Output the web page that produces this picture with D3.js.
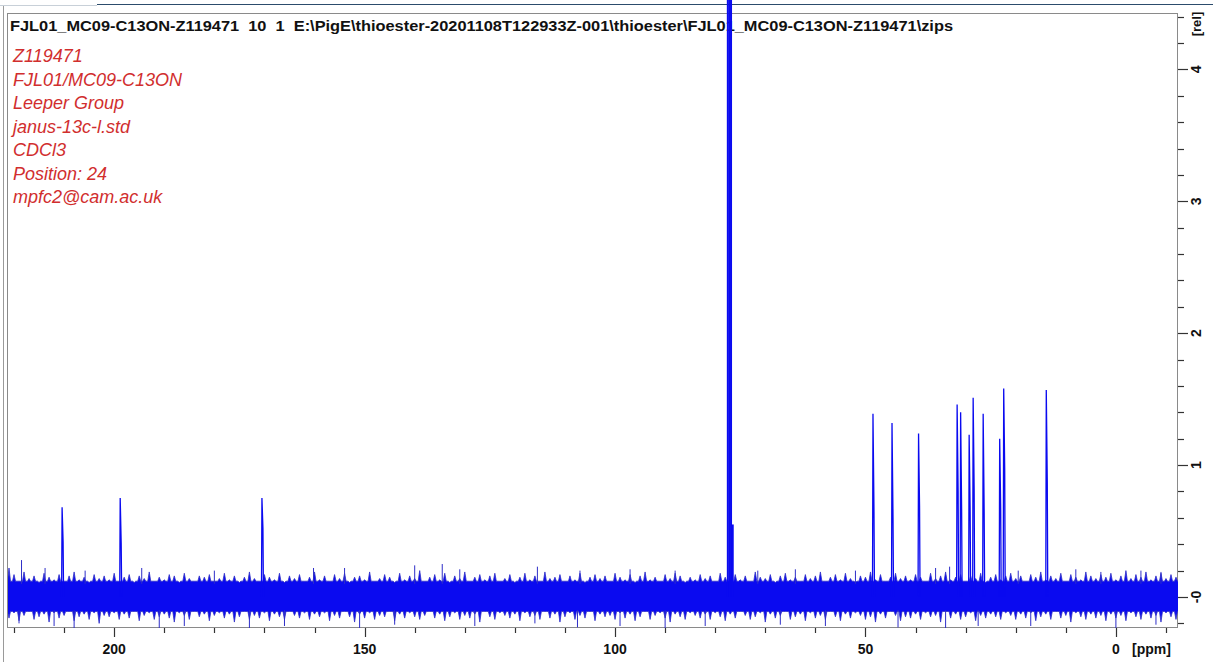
<!DOCTYPE html>
<html>
<head>
<meta charset="utf-8">
<script src="https://cdn.jsdelivr.net/npm/d3@7"></script>
<style>
  html, body { margin: 0; padding: 0; background: #ffffff; }
  svg { display: block; }
</style>
</head>
<body>
<svg id="chart" width="1213" height="662"></svg>
<script>
// ---- spectrum data (13C, CDCl3) ----
const titleText = "FJL01_MC09-C13ON-Z119471  10  1  E:\\PigE\\thioester-20201108T122933Z-001\\thioester\\FJL01_MC09-C13ON-Z119471\\zips";
const infoLines = ["Z119471", "FJL01/MC09-C13ON", "Leeper Group", "janus-13c-l.std", "CDCl3", "Position: 24", "mpfc2@cam.ac.uk"];

// resolved peaks: shift (ppm), apex height, neighbouring point height (rel)
const peakShift  = [210.4, 198.8, 170.5, 48.5, 44.7, 39.4, 31.7, 31.0, 29.3, 28.5, 26.5, 23.2, 22.4, 13.9];
const peakHeight = [0.68, 0.75, 0.75, 1.39, 1.32, 1.24, 1.46, 1.40, 1.23, 1.51, 1.39, 1.20, 1.58, 1.57];
const peakSecond = [0.42, 0.41, 0.52, 0.65, 0.60, 0.68, 0.80, 0.65, 0.65, 0.81, 0.64, 0.66, 0.96, 0.87];

// solvent triplet (off scale) and its shoulder
const solventShift  = [77.48, 77.16, 76.84, 76.5];
const solventHeight = [6.0, 6.0, 6.0, 0.55];

// baseline noise: dense core level and outer envelope (0.01 rel), one value per ppm from 221 to -13 ppm
const noiseCoreTop = 0.12;
const noiseCoreBottom = -0.11;
const noiseTop = [
  22,17,12,19,14,16,11,18,15,13,17,12,16,19,13,15,11,17,14,16,
  13,18,12,15,17,11,16,14,19,12,15,13,17,16,11,18,14,12,16,15,
  17,12,14,18,13,16,11,15,19,14,12,17,15,13,18,11,16,14,17,12,
  15,19,13,16,12,17,14,18,11,15,16,13,19,12,14,17,15,11,18,13,
  16,14,20,12,15,17,13,18,11,16,14,19,12,15,17,13,16,18,12,14,
  17,11,15,18,13,16,12,19,14,15,17,12,16,13,18,11,15,17,14,16,
  12,18,15,13,17,11,16,19,13,15,12,17,14,18,16,11,15,13,17,14,
  16,12,18,15,14,17,13,16,12,19,15,14,17,11,16,18,13,15,12,17,
  14,16,19,12,15,17,13,18,14,11,16,15,19,13,17,12,15,18,14,16,
  13,17,15,12,18,14,16,19,13,15,17,12,16,14,18,11,15,17,13,16,
  18,14,16,12,17,15,19,13,16,14,18,12,17,15,13,19,16,14,17,15,
  18,13,16,20,14,17,15,19,13,16,18,14,17,15,19
];
const noiseBottom = [
  16,12,18,14,11,17,15,13,19,12,16,14,11,18,15,13,17,12,20,14,
  15,12,17,13,16,11,18,14,12,17,15,13,16,19,12,14,17,11,15,13,
  18,14,12,16,13,19,15,11,17,14,16,12,18,13,15,17,11,14,16,12,
  17,13,15,12,18,14,16,11,15,19,13,16,12,17,14,15,11,18,13,16,
  12,15,17,14,11,16,13,18,15,12,17,14,16,13,19,11,15,17,12,14,
  16,13,18,12,15,14,17,11,16,13,19,15,12,17,14,16,11,18,13,15,
  14,17,12,16,13,18,15,11,17,14,12,16,19,13,15,17,12,14,16,13,
  17,12,15,18,13,16,11,14,17,15,12,19,13,16,14,11,17,15,13,18,
  12,16,14,17,11,15,18,13,16,12,14,17,15,19,13,16,11,14,18,15,
  16,13,17,12,15,14,19,11,16,13,17,15,12,18,14,16,13,15,17,12,
  14,17,13,16,12,18,15,13,17,11,16,14,19,12,15,17,13,16,14,18,
  13,16,14,18,12,15,17,13,16,14,19,12,15,17,14
];

// isolated noise spikes: shift (ppm), excursion (rel)
const spikeShift = [218.5, 213.8, 205.8, 194.5, 180.0, 160.2, 154.0, 140.0, 134.5, 131.0,
                    115.5, 107.0, 97.0, 88.0, 71.5, 64.0, 52.0, 36.0, 33.2, 19.5,
                    8.0, 3.0, -5.0, -9.0,
                    219.0, 212.0, 208.0, 191.0, 186.0, 173.0, 166.0, 151.0, 144.0, 128.0,
                    116.0, 107.5, 99.0, 90.0, 82.0, 67.0, 58.0, 43.5, 34.0, 27.5,
                    17.0, 0.0, -8.0];
const spikeValue = [0.28, 0.22, 0.20, 0.22, 0.20, 0.22, 0.22, 0.24, 0.25, 0.21,
                    0.23, 0.20, 0.21, 0.20, 0.20, 0.21, 0.20, 0.22, 0.23, 0.20,
                    0.21, 0.19, 0.20, 0.19,
                    -0.20, -0.22, -0.26, -0.25, -0.22, -0.25, -0.22, -0.24, -0.21, -0.22,
                    -0.20, -0.23, -0.22, -0.25, -0.22, -0.21, -0.22, -0.23, -0.24, -0.22,
                    -0.22, -0.24, -0.21];

// axis ticks
const xMajorTicks = [200, 150, 100, 50, 0];
const xMinorTicks = [220, 210, 190, 180, 170, 160, 140, 130, 120, 110, 90, 80, 70, 60, 40, 30, 20, 10, -10];
const yMajorTicks = [0, 1, 2, 3, 4];
const yMajorLabels = ["-0", "1", "2", "3", "4"];
const yMinorTicks = [-0.2, 0.2, 0.4, 0.6, 0.8, 1.2, 1.4, 1.6, 1.8, 2.2, 2.4, 2.6, 2.8, 3.2, 3.4, 3.6, 3.8, 4.2, 4.4];

// ---- layout ----
const plot = { left: 8, right: 1178, top: 14, bottom: 628 };
const svg = d3.select("#chart");

const x = d3.scaleLinear().domain([221.2, -12.4]).range([plot.left, plot.right]);
const y = d3.scaleLinear().domain([-0.235, 4.42]).range([plot.bottom, plot.top]);

const blue = "#0a0af0";
const edgeBlue = "#2e2ec8";
const frameColor = "#8a8a8a";

// window edges
svg.append("line").attr("x1", 3.5).attr("x2", 3.5).attr("y1", 5).attr("y2", 662)
  .attr("stroke", "#9a9a9a").attr("stroke-width", 1);
svg.append("line").attr("x1", 0).attr("x2", 97).attr("y1", 5.5).attr("y2", 5.5)
  .attr("stroke", "#c8d0d8").attr("stroke-width", 1);
svg.append("line").attr("x1", 97).attr("x2", 1213).attr("y1", 4.5).attr("y2", 4.5)
  .attr("stroke", "#2c4c6c").attr("stroke-width", 1);

// plot frame
svg.append("rect")
  .attr("x", plot.left - 0.5).attr("y", plot.top - 0.5)
  .attr("width", plot.right - plot.left).attr("height", plot.bottom - plot.top)
  .attr("fill", "none").attr("stroke", frameColor).attr("stroke-width", 1);

// title and sample info
svg.append("text")
  .attr("x", 10).attr("y", 31)
  .attr("xml:space", "preserve")
  .style("white-space", "pre")
  .attr("font-family", "'Liberation Sans', Arial, sans-serif")
  .attr("font-weight", "bold").attr("font-size", 14)
  .attr("fill", "#111")
  .attr("textLength", 943).attr("lengthAdjust", "spacingAndGlyphs")
  .text(titleText);

svg.append("g").selectAll("text").data(infoLines).join("text")
  .attr("x", 13).attr("y", (d, i) => 62 + i * 23.5)
  .attr("font-family", "'Liberation Sans', Arial, sans-serif")
  .attr("font-style", "italic").attr("font-size", 18)
  .attr("fill", "#d12e2e")
  .text(d => d);

// spectrum layer (clipped at the x axis)
svg.append("clipPath").attr("id", "specClip")
  .append("rect").attr("x", plot.left).attr("y", 0)
  .attr("width", plot.right - plot.left).attr("height", plot.bottom);

const spec = svg.append("g").attr("clip-path", "url(#specClip)");

// noise band: each sampled excursion rises out of the dense core
const noiseShift = d3.range(noiseTop.length).map(i => 221 - i);
const bandTop = noiseShift.flatMap((s, i) => [
  { s: s + 0.3, v: noiseCoreTop }, { s, v: noiseTop[i] / 100 }, { s: s - 0.3, v: noiseCoreTop }
]);
const bandBottom = noiseShift.flatMap((s, i) => [
  { s: s + 0.3, v: noiseCoreBottom }, { s, v: -noiseBottom[i] / 100 }, { s: s - 0.3, v: noiseCoreBottom }
]);
const bandLine = d3.line().x(d => x(d.s)).y(d => y(d.v));
spec.append("path")
  .attr("fill", blue).attr("stroke", edgeBlue).attr("stroke-width", 0.8)
  .attr("stroke-linejoin", "miter")
  .attr("d", bandLine(bandTop.concat(bandBottom.slice().reverse())) + "Z");

// noise spikes
spec.append("g").selectAll("line").data(spikeShift).join("line")
  .attr("x1", d => x(d)).attr("x2", d => x(d))
  .attr("y1", (d, i) => y(spikeValue[i] > 0 ? 0.1 : -0.1))
  .attr("y2", (d, i) => y(spikeValue[i]))
  .attr("stroke", edgeBlue).attr("stroke-width", 1);

// resolved peaks: apex line plus neighbouring point
const peakLine = d3.line().x(d => x(d[0])).y(d => y(d[1]));
spec.append("g").selectAll("path").data(peakShift).join("path")
  .attr("fill", "none").attr("stroke", blue).attr("stroke-width", 1.3)
  .attr("d", (d, i) => peakLine([
    [d + 0.1, 0], [d, peakHeight[i]], [d - 0.2, peakSecond[i]], [d - 0.3, 0]
  ]));

// solvent signal
spec.append("g").selectAll("line").data(solventShift).join("line")
  .attr("x1", d => x(d)).attr("x2", d => x(d))
  .attr("y1", y(0))
  .attr("y2", (d, i) => y(solventHeight[i]))
  .attr("stroke", blue).attr("stroke-width", 2);

// ---- axes ----
const axisFont = "'Liberation Sans', Arial, sans-serif";

// bottom (ppm)
const xAxis = svg.append("g");
xAxis.selectAll("line.major").data(xMajorTicks).join("line")
  .attr("x1", d => Math.round(x(d)) + 0.5).attr("x2", d => Math.round(x(d)) + 0.5)
  .attr("y1", plot.bottom).attr("y2", plot.bottom + 9)
  .attr("stroke", "#333").attr("stroke-width", 1.2);
xAxis.selectAll("line.minor").data(xMinorTicks).join("line")
  .attr("x1", d => Math.round(x(d)) + 0.5).attr("x2", d => Math.round(x(d)) + 0.5)
  .attr("y1", plot.bottom).attr("y2", plot.bottom + 5)
  .attr("stroke", "#333").attr("stroke-width", 1.2);
xAxis.selectAll("text").data(xMajorTicks).join("text")
  .attr("x", d => x(d)).attr("y", 654)
  .attr("text-anchor", "middle")
  .attr("font-family", axisFont).attr("font-weight", "bold").attr("font-size", 14)
  .attr("fill", "#111")
  .text(d => d);
xAxis.append("text")
  .attr("x", 1132).attr("y", 654)
  .attr("font-family", axisFont).attr("font-weight", "bold").attr("font-size", 14)
  .attr("fill", "#111")
  .text("[ppm]");

// right (rel)
const yAxis = svg.append("g");
yAxis.selectAll("line.major").data(yMajorTicks).join("line")
  .attr("x1", plot.right).attr("x2", plot.right + 10)
  .attr("y1", d => Math.round(y(d)) + 0.5).attr("y2", d => Math.round(y(d)) + 0.5)
  .attr("stroke", "#333").attr("stroke-width", 1.2);
yAxis.selectAll("line.minor").data(yMinorTicks).join("line")
  .attr("x1", plot.right).attr("x2", plot.right + 6)
  .attr("y1", d => Math.round(y(d)) + 0.5).attr("y2", d => Math.round(y(d)) + 0.5)
  .attr("stroke", "#333").attr("stroke-width", 1.2);
yAxis.selectAll("text").data(yMajorTicks).join("text")
  .attr("transform", d => `translate(1201,${y(d)}) rotate(-90)`)
  .attr("text-anchor", "middle")
  .attr("font-family", axisFont).attr("font-weight", "bold").attr("font-size", 14)
  .attr("fill", "#111")
  .text((d, i) => yMajorLabels[i]);
yAxis.append("text")
  .attr("transform", `translate(1201,24) rotate(-90)`)
  .attr("text-anchor", "middle")
  .attr("font-family", axisFont).attr("font-weight", "bold").attr("font-size", 13)
  .attr("fill", "#111")
  .text("[rel]");
</script>
</body>
</html>
